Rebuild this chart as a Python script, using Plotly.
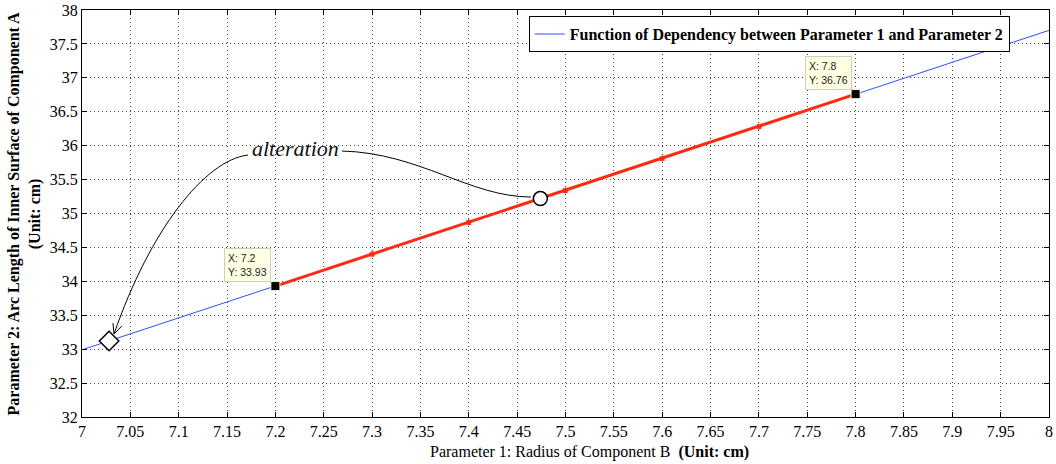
import plotly.graph_objects as go

# Parameter 1 (radius, cm) and Parameter 2 (arc length, cm)
radius_all = [7.0, 7.1, 7.2, 7.3, 7.4, 7.5, 7.6, 7.7, 7.8, 7.9, 8.0]
arc_all = [32.99, 33.46, 33.93, 34.40, 34.87, 35.34, 35.81, 36.28, 36.76, 37.23, 37.70]

# Highlighted working range
radius_range = [7.2, 7.3, 7.4, 7.5, 7.6, 7.7, 7.8]
arc_range = [33.93, 34.40, 34.87, 35.34, 35.81, 36.28, 36.76]

# Data-tip points
tip_x = [7.2, 7.8]
tip_y = [33.93, 36.76]

# Alteration markers
diamond_pt = (7.028, 33.12)
circle_pt = (7.474, 35.22)

x_ticks = [7.0, 7.05, 7.1, 7.15, 7.2, 7.25, 7.3, 7.35, 7.4, 7.45, 7.5,
           7.55, 7.6, 7.65, 7.7, 7.75, 7.8, 7.85, 7.9, 7.95, 8.0]
x_tick_text = ["7", "7.05", "7.1", "7.15", "7.2", "7.25", "7.3", "7.35", "7.4", "7.45", "7.5",
               "7.55", "7.6", "7.65", "7.7", "7.75", "7.8", "7.85", "7.9", "7.95", "8"]
y_ticks = [32, 32.5, 33, 33.5, 34, 34.5, 35, 35.5, 36, 36.5, 37, 37.5, 38]
y_tick_text = ["32", "32.5", "33", "33.5", "34", "34.5", "35", "35.5", "36", "36.5", "37", "37.5", "38"]

SERIF = "Liberation Serif, Times New Roman, serif"
SANS = "Liberation Sans, Arial, sans-serif"

fig = go.Figure()

fig.add_trace(go.Scatter(
    x=radius_all, y=arc_all, mode="lines",
    line=dict(color="#2f4fff", width=1),
    name="Function of Dependency between Parameter 1 and Parameter 2",
))

fig.add_trace(go.Scatter(
    x=radius_range, y=arc_range, mode="lines+markers",
    line=dict(color="#ff2a10", width=3),
    marker=dict(symbol="asterisk", size=5, color="#ff2a10",
                line=dict(color="#ff2a10", width=1.5)),
    showlegend=False, hoverinfo="skip",
))

fig.add_trace(go.Scatter(
    x=tip_x, y=tip_y, mode="markers",
    marker=dict(symbol="square", size=9, color="black",
                line=dict(color="#f4f0c0", width=1)),
    showlegend=False, hoverinfo="skip",
))

fig.add_trace(go.Scatter(
    x=[diamond_pt[0]], y=[diamond_pt[1]], mode="markers",
    marker=dict(symbol="diamond", size=15, color="white",
                line=dict(color="black", width=1.5)),
    showlegend=False, hoverinfo="skip",
))
fig.add_trace(go.Scatter(
    x=[circle_pt[0]], y=[circle_pt[1]], mode="markers",
    marker=dict(symbol="circle", size=14, color="white",
                line=dict(color="black", width=1.5)),
    showlegend=False, hoverinfo="skip",
))

# Data-tip boxes
for tx, ty in zip(tip_x, tip_y):
    fig.add_annotation(
        x=tx, y=ty, xref="x", yref="y",
        text=f"X: {tx:g}<br>Y: {ty:.2f}",
        showarrow=False, xanchor="right", yanchor="bottom",
        xshift=-4, yshift=4, align="left",
        font=dict(family=SANS, size=10.5, color="#222"),
        bgcolor="#ffffe4", bordercolor="#cfcfc0", borderwidth=1, borderpad=3,
    )

# "alteration" label with curved leaders
fig.add_annotation(
    x=7.221, y=35.965, xref="x", yref="y",
    text="<i>alteration</i>", showarrow=False,
    font=dict(family=SERIF, size=22, color="#111"),
)
fig.add_shape(
    type="path", xref="x", yref="y",
    path="M 7.1717,35.862 C 7.1272,35.789 7.0703,34.757 7.0331,33.223",
    line=dict(color="black", width=1),
)
fig.add_shape(
    type="path", xref="x", yref="y",
    path="M 7.0411,33.340 L 7.0331,33.223 L 7.0320,33.384",
    line=dict(color="black", width=1),
)
fig.add_shape(
    type="path", xref="x", yref="y",
    path="M 7.2689,35.921 C 7.3495,35.892 7.4012,35.243 7.4643,35.243",
    line=dict(color="black", width=1),
)

# Axis titles
fig.add_annotation(
    x=0.525, y=-0.086, xref="paper", yref="paper",
    text="Parameter 1: Radius of Component B  <b>(Unit: cm)</b>",
    showarrow=False, xanchor="center", yanchor="middle",
    font=dict(family=SERIF, size=16, color="black"),
)
fig.add_annotation(
    x=-0.059, y=0.5, xref="paper", yref="paper",
    text="<b>Parameter 2: Arc Length of Inner Surface of Component A<br>(Unit: cm)</b>",
    showarrow=False, xanchor="center", yanchor="middle", textangle=-90,
    font=dict(family=SERIF, size=16, color="black"),
)

axis_common = dict(
    showline=True, linecolor="black", linewidth=1, mirror="ticks",
    ticks="inside", ticklen=5, tickcolor="black", tickwidth=1,
    showgrid=True, gridcolor="#444", gridwidth=1, griddash="1px,3px",
    zeroline=False, automargin=False,
    tickfont=dict(family=SERIF, size=16, color="black"),
)

fig.update_xaxes(range=[7, 8], tickvals=x_ticks, ticktext=x_tick_text, **axis_common)
fig.update_yaxes(range=[32, 38], tickvals=y_ticks, ticktext=y_tick_text, **axis_common)

fig.update_layout(
    width=1056, height=464,
    margin=dict(l=82, r=7, t=10, b=47),
    plot_bgcolor="white", paper_bgcolor="white",
    showlegend=True,
    legend=dict(
        x=0.462, y=0.985, xanchor="left", yanchor="top",
        bgcolor="white", bordercolor="black", borderwidth=1,
        font=dict(family=SERIF, size=16, color="black", weight="bold"),
        itemwidth=30, tracegroupgap=0,
    ),
)

fig.write_html("out.html")
